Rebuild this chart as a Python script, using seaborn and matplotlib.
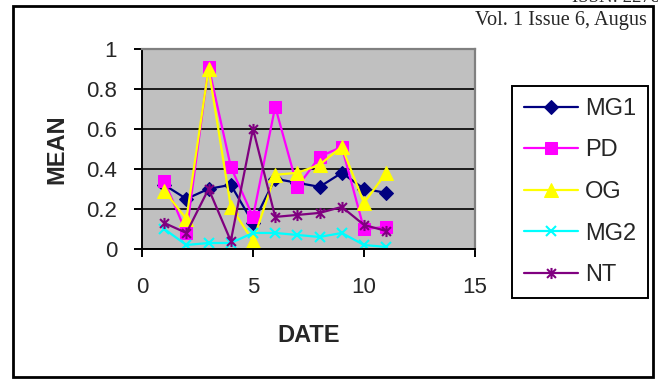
import matplotlib
matplotlib.use("Agg")
import matplotlib.pyplot as plt
from matplotlib.path import Path
from matplotlib.patches import Rectangle
import seaborn as sns

# Mean values per date for each group
dates = [1, 2, 3, 4, 5, 6, 7, 8, 9, 10, 11]
mg1 = [0.32, 0.25, 0.30, 0.32, 0.13, 0.35, 0.33, 0.31, 0.38, 0.30, 0.28]
pd_ = [0.34, 0.08, 0.91, 0.41, 0.16, 0.71, 0.31, 0.46, 0.51, 0.10, 0.11]
og = [0.29, 0.15, 0.90, 0.21, 0.04, 0.37, 0.38, 0.42, 0.51, 0.23, 0.38]
mg2 = [0.10, 0.02, 0.03, 0.03, 0.08, 0.08, 0.07, 0.06, 0.08, 0.02, 0.01]
nt = [0.13, 0.08, 0.30, 0.04, 0.60, 0.16, 0.17, 0.18, 0.21, 0.12, 0.09]

series_names = ["MG1", "PD", "OG", "MG2", "NT"]
series_values = [mg1, pd_, og, mg2, nt]
x_ticks = [0, 5, 10, 15]
y_ticks = [0, 0.2, 0.4, 0.6, 0.8, 1]

# Excel-style asterisk: an X crossed by a vertical bar
star = Path(
    [(0, -1), (0, 1), (-0.8, -0.8), (0.8, 0.8), (-0.8, 0.8), (0.8, -0.8)],
    [Path.MOVETO, Path.LINETO, Path.MOVETO, Path.LINETO, Path.MOVETO, Path.LINETO],
)

styles = {
    "MG1": dict(color="#000080", marker="D", markersize=7.5),
    "PD": dict(color="#FF00FF", marker="s", markersize=8.5),
    "OG": dict(color="#FFFF00", marker="^", markersize=10),
    "MG2": dict(color="#00FFFF", marker="x", markersize=7, markeredgewidth=1.5),
    "NT": dict(color="#800080", marker=star, markersize=8, markeredgewidth=1.5),
}

sns.set_style("white")
plt.rcParams["font.family"] = ["Liberation Sans", "DejaVu Sans"]

W, H = 658, 379
fig = plt.figure(figsize=(W / 100, H / 100), dpi=100)
ax = fig.add_axes([142 / W, 1 - 249 / H, (475 - 142) / W, (249 - 48.5) / H])
ax.set_facecolor("#C0C0C0")

for name, vals in zip(series_names, series_values):
    st = dict(styles[name])
    c = st.pop("color")
    sns.lineplot(x=dates, y=vals, ax=ax, color=c, linewidth=1.6,
                 markeredgecolor=c, markerfacecolor=c, label=name, **st)

ax.set_xlim(0, 15)
ax.set_ylim(0, 1)
ax.set_xticks(x_ticks)
ax.set_yticks(y_ticks)
ax.set_xticklabels([str(t) for t in x_ticks])
ax.set_yticklabels([f"{t:g}" for t in y_ticks])

ax.set_axisbelow(True)
ax.yaxis.grid(True, color="black", linewidth=1.2)
ax.xaxis.grid(False)

for side in ("left", "bottom"):
    ax.spines[side].set_color("black")
    ax.spines[side].set_linewidth(1.4)
for side in ("top", "right"):
    ax.spines[side].set_color("#808080")
    ax.spines[side].set_linewidth(1.6)

ax.tick_params(axis="both", direction="out", length=6, width=1.4, color="black",
               labelsize=16, bottom=True, left=True)
ax.tick_params(axis="y", pad=12)
ax.tick_params(axis="x", pad=14)

ax.set_xlabel("DATE", fontsize=17, fontweight="bold", labelpad=19)
ax.set_ylabel("MEAN", fontsize=17, fontweight="bold", labelpad=13)

leg = ax.legend(loc="upper left", bbox_to_anchor=(512 / W, 1 - 86 / H),
                bbox_transform=fig.transFigure, borderaxespad=0,
                fontsize=17, frameon=True, fancybox=False, edgecolor="black",
                framealpha=1, handlelength=2.3, handletextpad=0.3,
                borderpad=0.5, labelspacing=0.83)
leg.get_frame().set_linewidth(1.4)

# Outer chart border
fig.patches.append(Rectangle((13 / W, 1 - 377 / H), (653 - 13) / W, (377 - 6) / H,
                             transform=fig.transFigure, fill=False,
                             edgecolor="black", linewidth=2))

# Page header text above the chart
fig.text(475 / W, 1 - 20 / H, "Vol. 1 Issue 6, Augus", fontsize=14.6,
         family=["Liberation Serif"], va="center", ha="left")
fig.text(572 / W, 1 - 2 / H, "ISSN: 2278", fontsize=13.5,
         family=["Liberation Serif"], va="baseline", ha="left")

fig.savefig("out.png", dpi=100)
